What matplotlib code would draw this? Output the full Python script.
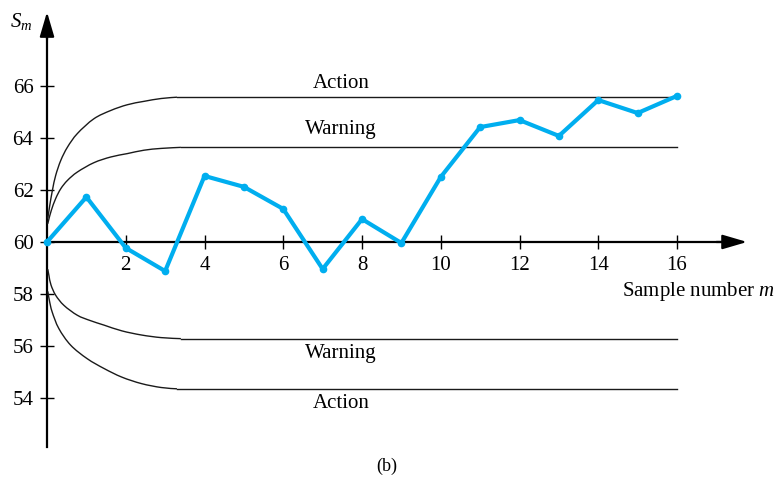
import matplotlib
matplotlib.use("Agg")
import matplotlib.pyplot as plt
from matplotlib.path import Path
from matplotlib.patches import PathPatch

# Cumulative sum S_m for each sample number m
samples = list(range(17))
s_values = [60.0, 61.73, 59.77, 58.88, 62.54, 62.12, 61.27, 58.96, 60.88, 59.96,
            62.5, 64.42, 64.69, 64.08, 65.46, 64.96, 65.62]

# Control limits (m, S); after the last point they run flat to m=16
upper_action_m = [0.02, 0.07, 0.14, 0.22, 0.35, 0.52, 0.77, 1.19, 1.62, 2.04, 2.46, 2.9, 3.3]
upper_action_s = [60.9, 61.41, 62.01, 62.56, 63.14, 63.65, 64.17, 64.74, 65.06, 65.28, 65.41, 65.52, 65.57]
upper_warn_m = [0.02, 0.04, 0.11, 0.22, 0.35, 0.52, 0.77, 1.19, 1.62, 2.04, 2.46, 2.9, 3.4]
upper_warn_s = [60.7, 60.83, 61.22, 61.67, 62.05, 62.37, 62.69, 63.05, 63.27, 63.4, 63.53, 63.6, 63.64]
lower_warn_m = [0.02, 0.05, 0.1, 0.22, 0.43, 0.77, 1.09, 1.45, 1.9, 2.4, 2.9, 3.4]
lower_warn_s = [58.95, 58.7, 58.35, 57.95, 57.56, 57.18, 56.98, 56.8, 56.58, 56.42, 56.32, 56.28]
lower_action_m = [0.02, 0.06, 0.13, 0.3, 0.6, 1.02, 1.45, 1.9, 2.4, 2.9, 3.3]
lower_action_s = [58.1, 57.75, 57.31, 56.67, 56.03, 55.51, 55.13, 54.8, 54.55, 54.4, 54.35]
limit_end = 16

x_ticks = [2, 4, 6, 8, 10, 12, 14, 16]
y_ticks = [54, 56, 58, 60, 62, 64, 66]


def smooth_curve(ax, xs, ys, **kw):
    # Catmull-Rom through the read points, drawn as cubic Bezier segments
    pts = list(zip(xs, ys))
    pts = [pts[0]] + pts + [pts[-1]]
    verts = [pts[1]]
    codes = [Path.MOVETO]
    for i in range(1, len(pts) - 2):
        p0, p1, p2, p3 = pts[i - 1], pts[i], pts[i + 1], pts[i + 2]
        c1 = (p1[0] + (p2[0] - p0[0]) / 6, p1[1] + (p2[1] - p0[1]) / 6)
        c2 = (p2[0] - (p3[0] - p1[0]) / 6, p2[1] - (p3[1] - p1[1]) / 6)
        verts += [c1, c2, p2]
        codes += [Path.CURVE4] * 3
    ax.add_patch(PathPatch(Path(verts, codes), fill=False, **kw))
    ax.plot([xs[-1], limit_end], [ys[-1], ys[-1]], **kw)


plt.rcParams.update({
    "font.family": "Liberation Serif",
    "mathtext.fontset": "custom",
    "mathtext.rm": "Liberation Serif",
    "mathtext.it": "Liberation Serif:italic",
    "font.size": 15,
})

fig = plt.figure(figsize=(7.79, 4.79), dpi=100)
ax = fig.add_axes([0, 0, 1, 1])
ax.set_xlim(-1.194, 18.59)
ax.set_ylim(50.88, 69.31)
ax.patch.set_alpha(0)

# axes through the origin (0, 60)
ax.spines["left"].set_position(("data", 0))
ax.spines["bottom"].set_position(("data", 60))
ax.spines["right"].set_visible(False)
ax.spines["top"].set_visible(False)
ax.spines["left"].set_bounds(52.1, 68.3)
ax.spines["bottom"].set_bounds(0, 17.3)
for sp in ("left", "bottom"):
    ax.spines[sp].set_linewidth(1.6)
    ax.spines[sp].set_zorder(1)

ax.set_xticks(x_ticks)
ax.set_yticks(y_ticks)
ax.tick_params(direction="inout", length=9.5, width=1.0, labelsize=15)
ax.tick_params(axis="y", pad=5)
ax.tick_params(axis="x", pad=5)

arrow = dict(arrowstyle="-|>,head_length=0.75,head_width=0.22", color="black",
             lw=1.6, shrinkA=0, shrinkB=0, mutation_scale=20)
ax.annotate("", xy=(17.78, 60), xytext=(17.0, 60), arrowprops=arrow)
ax.annotate("", xy=(0, 68.85), xytext=(0, 67.8), arrowprops=arrow)

# limit curves
line_kw = dict(color="#1a1a1a", lw=1.0, zorder=2)
smooth_curve(ax, upper_action_m, upper_action_s, **line_kw)
smooth_curve(ax, upper_warn_m, upper_warn_s, **line_kw)
smooth_curve(ax, lower_warn_m, lower_warn_s, **line_kw)
smooth_curve(ax, lower_action_m, lower_action_s, **line_kw)

ax.plot(samples, s_values, color="#00aeef", lw=3.0, marker="o", markersize=4.5,
        zorder=3, clip_on=False)

ax.text(7.47, 66.08, "Action", ha="center", va="center")
ax.text(7.47, 64.31, "Warning", ha="center", va="center")
ax.text(7.47, 55.69, "Warning", ha="center", va="center")
ax.text(7.47, 53.77, "Action", ha="center", va="center")
ax.text(14.6, 58.1, "Sample number $m$", ha="left", va="center")
ax.text(-0.66, 68.5, "$S_m$", ha="center", va="center")
ax.text(8.63, 51.35, "(b)", ha="center", va="center", fontsize=13)

fig.savefig("out.png", dpi=100)
